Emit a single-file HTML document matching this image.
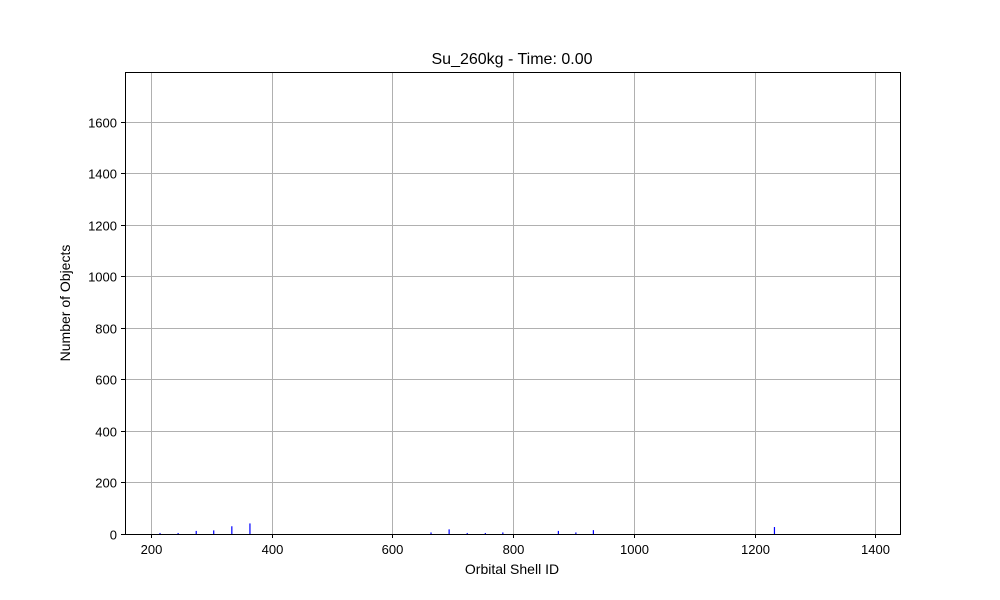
<!DOCTYPE html>
<html><head><meta charset="utf-8"><style>body{margin:0;background:#fff}svg{display:block}text{font-family:"Liberation Sans","DejaVu Sans",sans-serif;fill:#000}</style></head>
<body>
<svg id="chart" width="1000" height="600" xmlns="http://www.w3.org/2000/svg">
<rect width="1000" height="600" fill="#fff"/>
<g id="grid"></g>
<g id="bars"></g>
<rect x="125.5" y="72.5" width="775" height="462" fill="none" stroke="#000" stroke-width="1"/>
<g id="ticks"></g>
<text x="512" y="64" font-size="16" text-anchor="middle">Su_260kg - Time: 0.00</text>
<text x="512" y="574" font-size="14" text-anchor="middle">Orbital Shell ID</text>
<text x="70" y="303" font-size="14" text-anchor="middle" transform="rotate(-90 70 303)">Number of Objects</text>
</svg>
<script>
const shellIds=[215,245,275,304,334,364,664,694,724,754,783,875,904,933,1233];
const counts=[4,4,12,14,30,41,6,18,4,4,6,12,6,15,27];
const xTicks=[200,400,600,800,1000,1200,1400];
const yTicks=[0,200,400,600,800,1000,1200,1400,1600];
const X0=125,X1=900,Y0=534,Y1=72,XMIN=157,XMAX=1441,YMIN=0,YMAX=1792;
const sx=v=>X0+(v-XMIN)/(XMAX-XMIN)*(X1-X0);
const sy=v=>Y0-(v-YMIN)/(YMAX-YMIN)*(Y0-Y1);
const NS='http://www.w3.org/2000/svg';
const mk=(t,a,p)=>{const e=document.createElementNS(NS,t);for(const k in a)e.setAttribute(k,a[k]);p.appendChild(e);return e;};
const grid=document.getElementById('grid'),ticks=document.getElementById('ticks'),bars=document.getElementById('bars');
xTicks.forEach(v=>{const x=Math.round(sx(v))+0.5;
 const g=mk('line',{x1:x,x2:x,y1:Y1,y2:Y0,stroke:'#b0b0b0','stroke-width':1},grid);
 
 
 const t=mk('line',{x1:x,x2:x,y1:Y0+0.5,y2:Y0+4,stroke:'#000'},ticks);
 
 
 const l=mk('text',{x:x,y:Y0+20,'font-size':13,'text-anchor':'middle'},ticks);l.textContent=v;
 
 
});
yTicks.forEach(v=>{const y=Math.round(sy(v))+0.5;
 const g=mk('line',{x1:X0,x2:X1,y1:y,y2:y,stroke:'#b0b0b0','stroke-width':1},grid);
 
 
 const t=mk('line',{x1:X0-4,x2:X0+0.5,y1:y,y2:y,stroke:'#000'},ticks);
 
 
 const l=mk('text',{x:X0-8,y:y+5,'font-size':13,'text-anchor':'end'},ticks);l.textContent=v;
 
 
});
shellIds.forEach((s,i)=>{const x=sx(s),y=sy(counts[i]);
 const b=mk('rect',{x:x-0.6,y:y,width:1.2,height:Y0-y,fill:'#0000ff'},bars);
 
 
});
</script>
</body></html>
